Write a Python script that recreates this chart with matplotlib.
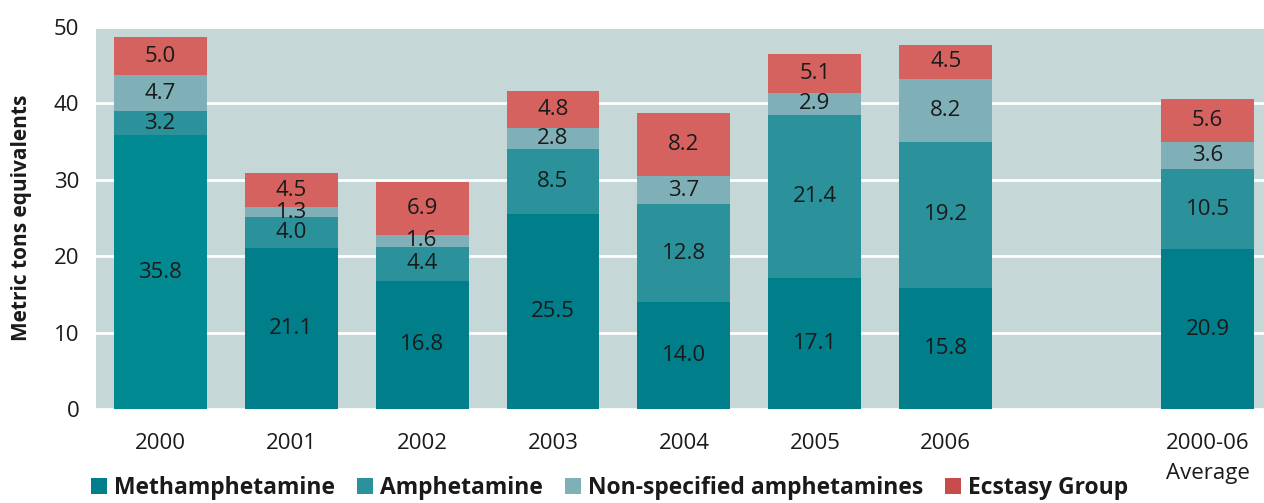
import matplotlib
matplotlib.use("Agg")
import matplotlib.pyplot as plt
import numpy as np
from matplotlib.patches import Patch

categories = ["2000", "2001", "2002", "2003", "2004", "2005", "2006", "2000-06\nAverage"]
positions = [0, 1, 2, 3, 4, 5, 6, 8]
meth = [35.8, 21.1, 16.8, 25.5, 14.0, 17.1, 15.8, 20.9]
amph = [3.2, 4.0, 4.4, 8.5, 12.8, 21.4, 19.2, 10.5]
nonspec = [4.7, 1.3, 1.6, 2.8, 3.7, 2.9, 8.2, 3.6]
ecstasy = [5.0, 4.5, 6.9, 4.8, 8.2, 5.1, 4.5, 5.6]
series_names = ["Methamphetamine", "Amphetamine", "Non-specified amphetamines", "Ecstasy Group"]

c_meth = "#007f8b"
c_meth_2000 = "#028a93"
c_amph = "#2b929b"
c_non = "#7fb0b7"
c_ecs = "#d5625f"
c_ecs_leg = "#c94c4c"
bg = "#c5d7d7"
txt = "#1a1a1a"

plt.rcParams['font.family'] = ['Open Sans', 'DejaVu Sans']

fig = plt.figure(figsize=(12.64, 5.03), dpi=100)
ax = fig.add_axes([96/1264, 1-409/503, 1-96/1264, (409-27)/503])
ax.set_facecolor(bg)
for s in ax.spines.values():
    s.set_visible(False)

ax.set_axisbelow(True)
ax.yaxis.grid(True, color="white", linewidth=2)
ax.set_ylim(0, 50)
ax.set_yticks([0, 10, 20, 30, 40, 50])
ax.set_xlim(-0.49, 8.43)
ax.set_xticks(positions)
ax.set_xticklabels(categories, fontsize=16, color=txt, linespacing=1.6)
ax.tick_params(axis='both', length=0, labelsize=16, labelcolor=txt)
ax.tick_params(axis='x', pad=17)
ax.tick_params(axis='y', pad=12)

w = 0.71
meth_colors = [c_meth_2000] + [c_meth] * (len(meth) - 1)
bottom = np.zeros(len(meth))
for vals, col in [(meth, meth_colors), (amph, c_amph), (nonspec, c_non), (ecstasy, c_ecs)]:
    ax.bar(positions, vals, width=w, bottom=bottom, color=col, linewidth=0)
    for x, b, v in zip(positions, bottom, vals):
        ax.text(x, b + v / 2, f"{v:.1f}", ha="center", va="center", fontsize=16, color=txt)
    bottom = bottom + np.array(vals)

ax.set_ylabel("Metric tons equivalents", fontsize=15, fontweight="bold", color=txt, labelpad=16)

handles = [Patch(facecolor=c, edgecolor="none") for c in [c_meth, c_amph, c_non, c_ecs_leg]]
leg = fig.legend(handles, series_names, loc="lower left", bbox_to_anchor=(0.056, -0.035), ncol=4,
                 frameon=False, handlelength=0.7, handleheight=0.7, handletextpad=0.3,
                 columnspacing=0.95, prop={"weight": "bold", "size": 16.5})
for t in leg.get_texts():
    t.set_color(txt)

fig.savefig("out.png", dpi=100)
